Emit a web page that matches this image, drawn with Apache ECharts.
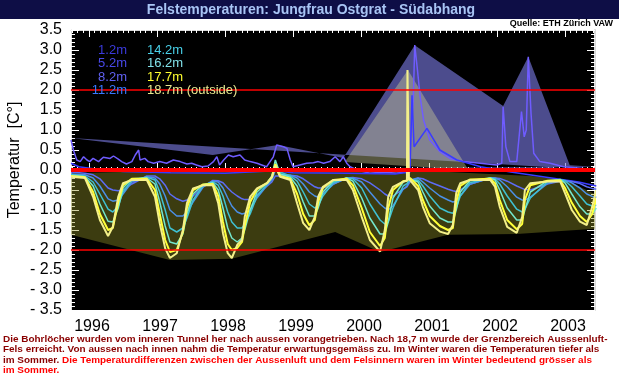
<!DOCTYPE html>
<html>
<head>
<meta charset="utf-8">
<script src="https://cdn.jsdelivr.net/npm/echarts@6/dist/echarts.min.js"></script>
<style>
html, body { margin: 0; padding: 0; background: #fff; }
#chart { width: 619px; height: 376px; }
</style>
</head>
<body>
<div id="chart"></div>
<script>
// decimal years shared by the six seasonal series
var T = [
  1995.735,1995.94,1996.06,1996.16,1996.28,1996.35,1996.43,1996.50,1996.63,1996.85,
  1996.97,1997.04,1997.12,1997.19,1997.29,1997.38,1997.44,1997.53,1997.68,1997.82,
  1997.90,1997.97,1998.04,1998.10,1998.18,1998.25,1998.29,1998.37,1998.47,1998.62,1998.69,1998.74,1998.81,1998.96,
  1999.06,1999.15,1999.24,1999.32,1999.37,1999.44,1999.59,1999.79,
  1999.88,2000.01,2000.13,2000.28,2000.35,2000.40,2000.47,2000.62,2000.675,2000.683,2000.697,2000.705,2000.72,
  2000.84,2000.91,2001.01,2001.16,2001.28,2001.35,2001.40,2001.46,2001.60,2001.90,
  2001.97,2002.04,2002.15,2002.29,2002.37,2002.41,2002.49,2002.74,2002.93,
  2003.00,2003.10,2003.22,2003.32,2003.40,2003.46
];
var d187 = [
  -0.17,-0.2,-0.67,-1.25,-1.65,-1.42,-0.67,-0.33,-0.25,-0.25,
  -0.67,-1.33,-1.96,-2.2,-2.08,-1.5,-0.83,-0.46,-0.38,-0.38,
  -0.83,-1.58,-2.08,-2.2,-1.87,-1.75,-1.17,-0.67,-0.46,-0.33,-0.17,0.1,-0.17,-0.25,
  -0.83,-1.33,-1.5,-1.17,-0.67,-0.42,-0.25,-0.25,
  -0.5,-1.17,-1.75,-2.04,-1.5,-0.67,-0.42,-0.29,-0.27,2.5,2.55,-0.22,-0.21,
  -0.5,-0.92,-1.33,-1.54,-1.6,-1.375,-0.58,-0.33,-0.25,-0.25,
  -0.42,-0.92,-1.42,-1.57,-1.17,-0.5,-0.33,-0.29,-0.29,
  -0.58,-1.0,-1.29,-1.375,-0.92,-0.5
];
var d177 = [
  -0.15,-0.18,-0.55,-1.1,-1.5,-1.45,-0.8,-0.38,-0.22,-0.22,
  -0.5,-1.1,-1.75,-2.05,-2.0,-1.55,-0.95,-0.5,-0.36,-0.35,
  -0.65,-1.3,-1.85,-2.0,-1.95,-1.8,-1.4,-0.8,-0.48,-0.32,-0.18,0.15,-0.15,-0.22,
  -0.6,-1.1,-1.38,-1.25,-0.8,-0.45,-0.25,-0.22,
  -0.38,-0.95,-1.55,-1.9,-1.7,-0.95,-0.5,-0.28,-0.26,-0.25,-0.23,-0.22,-0.2,
  -0.4,-0.75,-1.15,-1.4,-1.5,-1.45,-0.8,-0.4,-0.24,-0.22,
  -0.33,-0.75,-1.25,-1.48,-1.35,-0.75,-0.38,-0.27,-0.26,
  -0.45,-0.82,-1.15,-1.3,-1.1,-0.7
];
var d162 = [
  -0.14,-0.17,-0.4,-0.85,-1.28,-1.3,-0.95,-0.45,-0.22,-0.2,
  -0.35,-0.8,-1.4,-1.8,-1.85,-1.6,-1.1,-0.6,-0.36,-0.32,
  -0.5,-0.95,-1.45,-1.7,-1.8,-1.7,-1.5,-1.0,-0.55,-0.32,-0.15,0.25,-0.1,-0.18,
  -0.4,-0.8,-1.15,-1.15,-0.95,-0.55,-0.28,-0.2,
  -0.28,-0.7,-1.2,-1.6,-1.6,-1.3,-0.7,-0.3,-0.27,-0.26,-0.24,-0.22,-0.2,
  -0.3,-0.55,-0.9,-1.2,-1.3,-1.3,-1.0,-0.55,-0.27,-0.2,
  -0.25,-0.5,-0.95,-1.25,-1.25,-1.0,-0.55,-0.27,-0.24,
  -0.32,-0.6,-0.92,-1.1,-1.1,-0.95
];
var d142 = [
  -0.12,-0.15,-0.3,-0.6,-0.98,-1.05,-0.9,-0.55,-0.25,-0.18,
  -0.25,-0.55,-1.0,-1.45,-1.55,-1.45,-1.2,-0.75,-0.38,-0.3,
  -0.38,-0.65,-1.05,-1.3,-1.45,-1.45,-1.35,-1.1,-0.65,-0.35,-0.2,0.15,-0.05,-0.15,
  -0.28,-0.55,-0.85,-0.95,-0.9,-0.65,-0.32,-0.2,
  -0.22,-0.45,-0.85,-1.25,-1.35,-1.3,-0.95,-0.4,-0.34,-0.32,-0.3,-0.27,-0.22,
  -0.25,-0.4,-0.65,-0.95,-1.05,-1.08,-0.95,-0.65,-0.32,-0.2,
  -0.22,-0.35,-0.65,-0.98,-1.05,-0.98,-0.7,-0.3,-0.24,
  -0.27,-0.42,-0.65,-0.85,-0.9,-0.88
];
var d112 = [
  -0.1,-0.12,-0.2,-0.4,-0.72,-0.78,-0.75,-0.6,-0.3,-0.17,
  -0.2,-0.35,-0.65,-1.0,-1.15,-1.15,-1.05,-0.8,-0.42,-0.28,
  -0.3,-0.45,-0.7,-0.9,-1.05,-1.1,-1.08,-1.0,-0.7,-0.38,-0.25,0.0,-0.1,-0.13,
  -0.2,-0.35,-0.55,-0.65,-0.68,-0.6,-0.36,-0.2,
  -0.2,-0.3,-0.55,-0.85,-0.95,-1.0,-0.9,-0.48,-0.4,-0.37,-0.33,-0.3,-0.25,
  -0.2,-0.3,-0.45,-0.65,-0.75,-0.8,-0.78,-0.65,-0.36,-0.2,
  -0.2,-0.25,-0.42,-0.68,-0.75,-0.76,-0.68,-0.34,-0.26,
  -0.26,-0.32,-0.45,-0.6,-0.66,-0.68
];
var d82 = [
  -0.05,-0.08,-0.12,-0.22,-0.45,-0.5,-0.52,-0.5,-0.35,-0.15,
  -0.15,-0.22,-0.38,-0.6,-0.72,-0.78,-0.75,-0.65,-0.42,-0.26,
  -0.27,-0.32,-0.45,-0.55,-0.65,-0.72,-0.74,-0.74,-0.62,-0.4,-0.3,-0.15,-0.15,-0.13,
  -0.15,-0.22,-0.33,-0.42,-0.45,-0.45,-0.35,-0.2,
  -0.19,-0.22,-0.32,-0.5,-0.6,-0.65,-0.65,-0.48,-0.42,-0.4,-0.36,-0.33,-0.3,
  -0.2,-0.22,-0.3,-0.4,-0.48,-0.52,-0.54,-0.5,-0.36,-0.2,
  -0.2,-0.21,-0.28,-0.4,-0.46,-0.49,-0.5,-0.35,-0.28,
  -0.27,-0.29,-0.34,-0.42,-0.46,-0.48
];

// 5.2m: stays near zero, reacts to the 2000 event
var t52 = [1995.735,1995.85,1996.06,1996.5,1997.2,1998.0,1998.74,1999.0,1999.8,2000.5,2000.72,2000.75,2000.78,2000.97,2001.16,2001.41,2001.76,2002.2,2002.8,2003.2,2003.46];
var d52 = [0.17,0.08,0.03,-0.04,-0.07,-0.08,-0.02,-0.07,-0.08,-0.1,-0.05,1.87,0.58,1.04,0.5,0.25,0.08,-0.05,-0.2,-0.3,-0.4];

// 1.2m: noisy, big spikes 2000/2002
var t12 = [
  1995.735,1995.77,1995.82,1995.87,1995.92,1995.97,1996.01,1996.06,1996.14,1996.21,1996.31,1996.36,1996.43,1996.48,1996.55,1996.63,1996.68,1996.73,1996.75,1996.82,
  1996.87,1996.95,1997.04,1997.14,1997.24,1997.34,1997.44,1997.51,1997.58,1997.66,1997.75,1997.83,1997.88,1997.92,1997.98,1998.05,1998.12,1998.22,1998.29,1998.37,
  1998.47,1998.54,1998.61,1998.71,1998.76,1998.86,1998.91,1998.96,1999.00,1999.10,1999.20,1999.30,1999.37,1999.45,1999.54,1999.62,1999.69,1999.74,1999.79,1999.84,
  1999.94,2000.13,2000.33,2000.52,2000.70,2000.77,2000.79,2000.83,2000.87,2000.92,2001.01,2001.16,2001.31,2001.50,2001.75,2002.00,2002.07,2002.09,2002.13,2002.19,
  2002.29,2002.36,2002.40,2002.43,2002.46,2002.50,2002.54,2002.63,2002.78,2002.98,2003.27,2003.44
];
var d12 = [
  0.75,0.5,0.25,0.21,0.33,0.25,0.21,0.29,0.21,0.32,0.29,0.35,0.27,0.21,0.15,0.21,0.375,0.5,0.25,0.29,
  0.21,0.17,0.21,0.17,0.25,0.21,0.15,0.17,0.125,0.08,0.1,0.21,0.33,0.125,0.25,0.375,0.33,0.375,0.25,0.21,
  0.17,0.125,0.08,0.33,0.625,0.58,0.54,0.25,0.08,0.125,0.17,0.18,0.21,0.17,0.21,0.33,0.21,0.33,0.17,0.08,
  0.0,-0.08,-0.05,-0.08,-0.04,1.83,3.125,2.5,1.83,1.25,0.75,0.46,0.29,0.21,0.17,0.125,0.17,1.58,0.58,0.21,
  0.21,1.46,0.83,1.0,2.83,1.42,0.42,0.21,0.17,0.08,0.04,0.02
];

// shaded envelopes
var hiT = [1995.735,1997.82,1998.78,1999.74,2000.79,2002.09,2002.46,2003.07,2003.441];
var hiV = [0.8,0.375,0.625,0.3,3.12,1.6,2.83,0.12,0.08];
var triT = [1999.76,2000.69,2001.58];
var triV = [0.2,2.5,0.0];
var loT = [1995.735,1997.19,1998.10,1999.62,2000.28,2001.28,2002.29,2003.441];
var loV = [-1.62,-2.25,-2.22,-1.55,-2.05,-1.62,-1.6,-1.47];
var upT = [1995.735,1998.74,2000.69,2002.5,2003.0,2003.441];
var upV = [-0.08,0.05,0.0,-0.15,-0.25,-0.6];

var yearTicks = [1996,1997,1998,1999,2000,2001,2002,2003];
var refLines = [2, 0, -2];

var X0 = 1995.735, X1 = 2003.441;
var FONT = "'Liberation Sans', Arial, sans-serif";

var monthTicks = [];
for (var y = 1995; y <= 2003; y++) {
  for (var m = 0; m < 12; m++) {
    var v = y + m / 12;
    if (v > X0 && v < X1) monthTicks.push(v);
  }
}

function pairs(t, d) {
  return t.map(function (x, i) { return [x, d[i]]; });
}

function band(topT, topV, botT, botV, fill, z) {
  return {
    type: 'custom', silent: true, z: z,
    data: [[topT[0], topV[0]]],
    renderItem: function (params, api) {
      var pts = [];
      for (var i = 0; i < topT.length; i++) pts.push(api.coord([topT[i], topV[i]]));
      for (var j = botT.length - 1; j >= 0; j--) pts.push(api.coord([botT[j], botV[j]]));
      return { type: 'polygon', shape: { points: pts }, style: { fill: fill } };
    }
  };
}

function curve(name, t, d, color, width) {
  return {
    name: name, type: 'line', data: pairs(t, d), showSymbol: false, silent: true,
    lineStyle: { color: color, width: width }, z: 3
  };
}

var series = [
  band(hiT, hiV, [hiT[hiT.length - 1], hiT[0]], [0, 0], 'rgba(122,122,228,0.62)', 1),
  band(triT, triV, [triT[2], triT[0]], [0, 0], 'rgba(205,205,150,0.42)', 1),
  band(upT, upV, loT, loV, 'rgba(150,150,40,0.4)', 1),
  curve('1.2m', t12, d12, '#6f5cff', 1.5),
  curve('5.2m', t52, d52, '#3a3aff', 1.5),
  curve('8.2m', T, d82, '#5c6cf4', 1.5),
  curve('11.2m', T, d112, '#4b8fe6', 1.5),
  curve('14.2m', T, d142, '#3fc0d2', 1.5),
  curve('16.2m', T, d162, '#74e6cc', 1.5),
  curve('17.7m', T, d177, '#ffff38', 2),
  curve('18.7m', T, d187, '#f4f08a', 2)
];
refLines.forEach(function (r) {
  series.push({
    type: 'line', data: [[X0, r], [X1, r]], showSymbol: false, silent: true, z: 4,
    lineStyle: { color: '#ff0000', width: r === 0 ? 4 : 1.5 }
  });
});

function xAxisDef(pos, major) {
  return {
    type: 'value', min: X0, max: X1, position: pos,
    axisLine: { show: major, lineStyle: { color: '#d8d8d8', width: 1 } },
    axisTick: { show: true, inside: true, length: major ? 7 : 3,
      customValues: major ? yearTicks : monthTicks, lineStyle: { color: '#fff' } },
    axisLabel: { show: major && pos === 'bottom', customValues: yearTicks,
      formatter: function (v) { return String(v); },
      color: '#000', fontSize: 16, fontFamily: FONT, margin: 9, padding: [0, 0, 0, 6] },
    splitLine: { show: false }
  };
}

function yAxisDef(pos) {
  return {
    type: 'value', min: -3.5, max: 3.5, interval: 0.5, position: pos,
    axisLine: { show: true, lineStyle: { color: '#d8d8d8', width: pos === 'right' ? 2 : 1 } },
    axisTick: { show: true, inside: true, length: 8, lineStyle: { color: '#fff' } },
    minorTick: { show: true, splitNumber: 5, length: 4, lineStyle: { color: '#fff' } },
    axisLabel: { show: pos === 'left', color: '#000', fontSize: 16, fontFamily: FONT, margin: 9,
      formatter: function (v) {
        return v < 0 ? '- ' + Math.abs(v).toFixed(1) : v.toFixed(1);
      } },
    splitLine: { show: false }
  };
}

var legendLeft = [['1.2m', '#3a3adc'], ['5.2m', '#4848e8'], ['8.2m', '#6060f0'], ['11.2m', '#3878ff']];
var legendRight = [['14.2m', '#48d0e8'], ['16.2m', '#80e0e8'], ['17.7m', '#ffff30'], ['18.7m (outside)', '#e8e890']];

var graphics = [
  { type: 'rect', shape: { x: 0, y: 0, width: 619, height: 19 }, style: { fill: '#0e0e46' }, z: 0 },
  { type: 'text', x: 311, y: 10, style: { text: 'Felstemperaturen: Jungfrau Ostgrat - Südabhang',
      font: 'bold 14px ' + FONT, fill: '#a8c4f4', align: 'center', verticalAlign: 'middle' } },
  { type: 'text', x: 613, y: 24, style: { text: 'Quelle: ETH Zürich VAW',
      font: 'bold 9px ' + FONT, fill: '#000', align: 'right', verticalAlign: 'middle' } },
  { type: 'text', x: 15, y: 160, rotation: Math.PI / 2, style: { text: 'Temperatur  [C°]',
      font: '16px ' + FONT, fill: '#000', align: 'center', verticalAlign: 'middle' } }
];
legendLeft.forEach(function (l, i) {
  graphics.push({ type: 'text', x: 127, y: 50 + i * 13.5, z: 10, style: { text: l[0], fill: l[1],
    font: '13px ' + FONT, align: 'right', verticalAlign: 'middle' } });
});
legendRight.forEach(function (l, i) {
  graphics.push({ type: 'text', x: 147, y: 50 + i * 13.5, z: 10, style: { text: l[0], fill: l[1],
    font: '13px ' + FONT, align: 'left', verticalAlign: 'middle' } });
});

var noteLines = [
  [['Die Bohrlöcher wurden vom inneren Tunnel her nach aussen vorangetrieben. Nach 18,7 m wurde der Grenzbereich Ausssenluft-', 'd']],
  [['Fels erreicht. Von aussen nach innen nahm die Temperatur erwartungsgemäss zu. Im Winter waren die Temperaturen tiefer als', 'd']],
  [['im Sommer. ', 'd'], ['Die Temperaturdifferenzen zwischen der Aussenluft und dem Felsinnern waren im Winter bedeutend grösser als', 'r']],
  [['im Sommer.', 'r']]
];
noteLines.forEach(function (parts, i) {
  graphics.push({ type: 'text', x: 3, y: 339 + i * 10.5, style: {
    text: parts.map(function (p) { return '{' + p[1] + '|' + p[0] + '}'; }).join(''),
    verticalAlign: 'middle',
    rich: {
      d: { fill: '#8a0000', font: 'bold 9.95px ' + FONT },
      r: { fill: '#ff0000', font: 'bold 9.95px ' + FONT }
    } } });
});

var chart = echarts.init(document.getElementById('chart'));
chart.setOption({
  backgroundColor: '#fff',
  animation: false,
  grid: { left: 71, right: 24, top: 30, bottom: 66, show: true, backgroundColor: '#000', borderWidth: 0 },
  xAxis: [xAxisDef('bottom', true), xAxisDef('bottom', false), xAxisDef('top', true), xAxisDef('top', false)],
  yAxis: [yAxisDef('left'), yAxisDef('right')],
  graphic: graphics,
  series: series
});
</script>
</body>
</html>
